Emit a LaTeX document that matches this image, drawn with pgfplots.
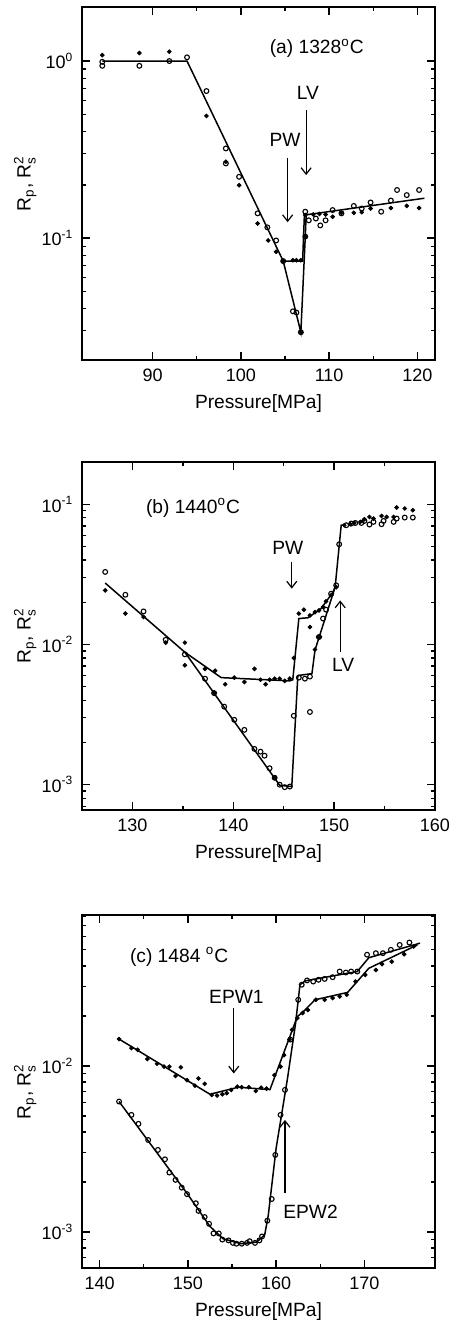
\documentclass[border=0pt]{standalone}
\usepackage{fontspec}
\setmainfont{Liberation Sans}
\usepackage{amsmath}
\usepackage{pgfplots}
\pgfplotsset{compat=1.18}
\usetikzlibrary{arrows.meta}

\pgfplotstableread{
x y
84.3 0.99
84.3 0.94
88.5 0.94
91.9 1.00
93.9 1.05
96.1 0.677
98.3 0.321
98.3 0.264
99.8 0.222
101.9 0.138
103.0 0.115
104.0 0.097
104.8 0.0742
105.9 0.0386
106.3 0.0380
106.8 0.0294
107.3 0.102
107.3 0.141
107.7 0.126
108.5 0.129
109.0 0.118
109.6 0.126
110.4 0.144
111.4 0.138
112.8 0.152
113.7 0.147
114.7 0.159
115.9 0.141
117.0 0.163
117.7 0.187
118.8 0.175
120.2 0.187
}\aopen
\pgfplotstableread{
x y
84.3 1.08
88.5 1.11
91.9 1.13
96.1 0.49
98.3 0.27
99.8 0.199
101.9 0.121
103.1 0.097
104.0 0.0837
104.8 0.0742
105.9 0.075
106.3 0.075
106.8 0.075
106.8 0.0294
107.3 0.102
107.3 0.135
108.2 0.136
108.9 0.137
109.6 0.136
110.4 0.132
111.4 0.139
112.8 0.139
113.7 0.140
114.7 0.147
117.0 0.148
118.8 0.152
120.2 0.148
}\afill
\pgfplotstableread{
x y
84.3 1.0
93.9 1.0
104.8 0.0742
107.0 0.0742
107.2 0.135
120.8 0.168
}\alineA
\pgfplotstableread{
x y
104.8 0.0742
106.8 0.0294
107.3 0.102
107.4 0.135
}\alineB

\pgfplotstableread{
x y
127.3 0.0329
129.3 0.0226
131.1 0.0172
133.3 0.0108
135.2 0.0085
137.2 0.0057
138.1 0.0045
139.1 0.0036
140.1 0.0029
141.1 0.00246
142.1 0.0018
142.7 0.00172
143.1 0.00161
143.6 0.00131
144.1 0.00112
144.6 0.00100
145.1 0.00096
145.6 0.00097
146.0 0.0031
146.5 0.0058
147.1 0.0057
147.6 0.0059
147.6 0.0033
148.5 0.0113
148.9 0.0153
149.2 0.0177
149.7 0.0230
150.2 0.0264
150.5 0.0518
151.2 0.0708
151.7 0.0728
152.1 0.0735
152.7 0.0735
153.0 0.076
153.5 0.0716
153.9 0.0748
154.7 0.0720
154.9 0.0760
155.9 0.0748
156.2 0.079
157.0 0.0803
157.8 0.0803
}\bopen
\pgfplotstableread{
x y
127.3 0.0243
129.3 0.0166
131.1 0.0157
133.3 0.0103
135.2 0.0103
135.2 0.0071
137.2 0.0067
138.1 0.0045
138.2 0.0065
139.2 0.0052
140.1 0.0058
141.1 0.0054
142.1 0.0067
142.7 0.0056
143.2 0.0052
143.6 0.0056
144.1 0.0057
144.1 0.00112
144.6 0.0057
145.1 0.0055
145.6 0.0057
146.0 0.0080
146.5 0.0166
147.0 0.0177
147.6 0.0161
147.6 0.0133
148.1 0.0092
148.4 0.0113
148.6 0.0113
148.1 0.0170
148.5 0.0175
148.9 0.0185
149.2 0.0203
149.7 0.0224
150.2 0.0256
151.0 0.0708
151.6 0.0720
152.0 0.0735
152.6 0.0748
153.0 0.0781
153.5 0.0811
153.9 0.079
154.7 0.0825
155.2 0.0811
155.9 0.0811
156.2 0.0947
157.0 0.0932
157.8 0.0906
}\bfill
\pgfplotstableread{
x y
127.3 0.0274
135.2 0.0088
138.8 0.0058
145.6 0.0055
145.9 0.0056
146.5 0.0153
147.4 0.0155
148.7 0.018
149.9 0.0237
150.1 0.0257
150.7 0.0708
151.1 0.0712
}\blineA
\pgfplotstableread{
x y
135.2 0.0088
144.6 0.00099
145.8 0.00097
146.4 0.0060
147.8 0.0062
148.1 0.0091
150.1 0.0257
}\blineB

\pgfplotstableread{
x y
142.2 0.0145
143.6 0.0128
144.3 0.0125
145.4 0.0110
146.5 0.0103
147.3 0.0099
147.9 0.0099
148.6 0.0087
149.2 0.0098
149.9 0.0082
150.8 0.0076
151.2 0.0084
151.9 0.0078
152.7 0.00668
153.3 0.00663
153.9 0.00675
154.4 0.00685
154.9 0.00717
155.6 0.00750
156.1 0.00744
156.9 0.00744
157.7 0.00707
158.3 0.0074
158.9 0.0073
159.8 0.0088
160.5 0.0099
160.9 0.0116
161.5 0.0144
161.8 0.0165
162.4 0.0194
163.0 0.0208
163.6 0.0217
164.5 0.0250
165.5 0.0250
166.4 0.0256
167.2 0.0262
168.0 0.0268
169.0 0.0322
170.1 0.0353
171.3 0.0378
172.0 0.0410
173.1 0.0424
174.5 0.0470
175.6 0.0524
}\cfill
\pgfplotstableread{
x y
142.2 0.0061
143.6 0.00507
144.4 0.00448
145.5 0.00358
146.6 0.00312
147.4 0.00274
147.9 0.00228
148.6 0.00206
149.3 0.00185
149.9 0.00169
150.9 0.00149
151.2 0.00134
151.9 0.00123
152.4 0.00112
152.9 0.00098
153.5 0.00098
153.9 0.00090
154.6 0.00089
155.1 0.00086
155.5 0.00085
156.1 0.00085
156.7 0.00086
157.0 0.00088
157.6 0.00086
158.1 0.00089
158.4 0.00094
159.0 0.00117
159.5 0.00158
159.9 0.00291
160.5 0.00507
161.0 0.00717
161.6 0.0144
162.5 0.0250
162.9 0.0308
163.5 0.0327
164.2 0.0322
164.8 0.0330
165.5 0.0334
166.4 0.0342
167.2 0.0370
167.9 0.0365
168.5 0.0370
169.2 0.0370
170.3 0.0467
171.3 0.0477
172.1 0.0477
173.0 0.0500
174.0 0.0535
175.1 0.0553
}\copen
\pgfplotstableread{
x y
142.2 0.0145
152.5 0.00675
155.7 0.00744
159.3 0.0072
162.4 0.0198
163.0 0.021
164.4 0.025
168.1 0.0277
170.5 0.0387
176.0 0.0535
}\clineA
\pgfplotstableread{
x y
142.2 0.0061
150.0 0.00168
152.5 0.00108
154.0 0.00091
156.0 0.00085
157.8 0.00087
158.7 0.00096
159.1 0.00125
160.0 0.0032
161.3 0.0085
162.2 0.018
162.7 0.0308
163.3 0.0325
169.2 0.037
170.5 0.0448
176.3 0.0548
}\clineB

\pgfplotsset{
  every axis/.append style={
    scale only axis,
    width=176.5pt,
    axis line style={line width=1pt},
    every tick/.style={black,line width=0.7pt},
    major tick length=4pt,
    minor tick length=2.2pt,
    minor x tick num=1,
    xlabel={Pressure[MPa]},
    ylabel={R$_\text{p}$, R$_\text{s}^\text{2}$},
    every axis y label/.style={at={(axis description cs:-0.161,0.5)},rotate=90,anchor=center,font=\fontsize{9.6}{11}\selectfont},
    every axis x label/.style={at={(axis description cs:0.5,0)},anchor=center,yshift=-22pt,font=\fontsize{9.6}{11}\selectfont},
    /pgf/number format/assume math mode=true,
    tick label style={font=\fontsize{9}{11}\selectfont},
    xticklabel style={yshift=-1pt},
    yticklabel style={xshift=-1pt},
  },
  opn/.style={only marks,mark=o,mark size=1.2pt,mark options={line width=0.55pt,black}},
  fil/.style={only marks,mark=*,mark size=0.95pt,mark options={black}},
  ln/.style={black,line width=0.75pt,no marks},
}
\tikzset{arr/.style={line width=0.6pt,-{Straight Barb[length=3.2pt,width=5pt]}},
  every node/.append style={font=\fontsize{9.6}{11}\selectfont}}

\begin{document}
\fontsize{9.6}{11}\selectfont
\begin{tikzpicture}
\useasboundingbox (0,0) rectangle (225pt,662.5pt);

% (a)
\begin{axis}[ymode=log,
  at={(41pt,482.5pt)},anchor=south west,
  height=176.5pt,
  xmin=82,xmax=122,ymin=0.0205,ymax=2.02,
  xtick={90,100,110,120},
  ytick={0.1,1},yticklabels={10\textsuperscript{-1},10\textsuperscript{0}},
  minor ytick={0.03,0.04,0.05,0.06,0.07,0.08,0.09,0.2,0.3,0.4,0.5,0.6,0.7,0.8,0.9},
]
\addplot[ln] table {\alineA};
\addplot[ln] table {\alineB};
\addplot[opn] table {\aopen};
\addplot[fil] table {\afill};
\node at (axis cs:108.6,1.18) {(a) 1328\textsuperscript{o}C};
\node at (axis cs:105.0,0.36) {PW};
\draw[arr] (axis cs:105.3,0.283) -- (axis cs:105.3,0.123);
\node at (axis cs:107.6,0.66) {LV};
\draw[arr] (axis cs:107.4,0.528) -- (axis cs:107.4,0.227);
\end{axis}

% (b)
\begin{axis}[ymode=log,
  at={(41pt,257.5pt)},anchor=south west,
  height=174pt,
  xmin=125,xmax=160,ymin=0.00066,ymax=0.2,
  xtick={130,140,150,160},
  ytick={0.001,0.01,0.1},yticklabels={10\textsuperscript{-3},10\textsuperscript{-2},10\textsuperscript{-1}},
  minor ytick={0.0007,0.0008,0.0009,0.002,0.003,0.004,0.005,0.006,0.007,0.008,0.009,0.02,0.03,0.04,0.05,0.06,0.07,0.08,0.09},
]
\addplot[ln] table {\blineA};
\addplot[ln] table {\blineB};
\addplot[opn] table {\bopen};
\addplot[fil] table {\bfill};
\node at (axis cs:136.0,0.094) {(b) 1440\textsuperscript{o}C};
\node at (axis cs:145.4,0.0486) {PW};
\draw[arr] (axis cs:145.8,0.0387) -- (axis cs:145.8,0.025);
\node at (axis cs:150.9,0.0071) {LV};
\draw[arr] (axis cs:150.6,0.0088) -- (axis cs:150.6,0.0206);
\end{axis}

% (c)
\begin{axis}[ymode=log,
  at={(41pt,28.5pt)},anchor=south west,
  height=176.5pt,
  xmin=138,xmax=178,ymin=0.000607,ymax=0.081,
  xtick={140,150,160,170},
  ytick={0.001,0.01},yticklabels={10\textsuperscript{-3},10\textsuperscript{-2}},
  minor ytick={0.0007,0.0008,0.0009,0.002,0.003,0.004,0.005,0.006,0.007,0.008,0.009,0.02,0.03,0.04,0.05,0.06,0.07,0.08},
]
\addplot[ln] table {\clineA};
\addplot[ln] table {\clineB};
\addplot[opn] table {\copen};
\addplot[fil] table {\cfill};
\node at (axis cs:149.0,0.0454) {(c) 1484 \textsuperscript{o}C};
\node at (axis cs:155.5,0.026) {EPW1};
\draw[arr] (axis cs:155.2,0.0223) -- (axis cs:155.2,0.0090);
\node at (axis cs:163.9,0.00132) {EPW2};
\draw[arr] (axis cs:161.0,0.00171) -- (axis cs:161.0,0.00473);
\end{axis}
\end{tikzpicture}
\end{document}
